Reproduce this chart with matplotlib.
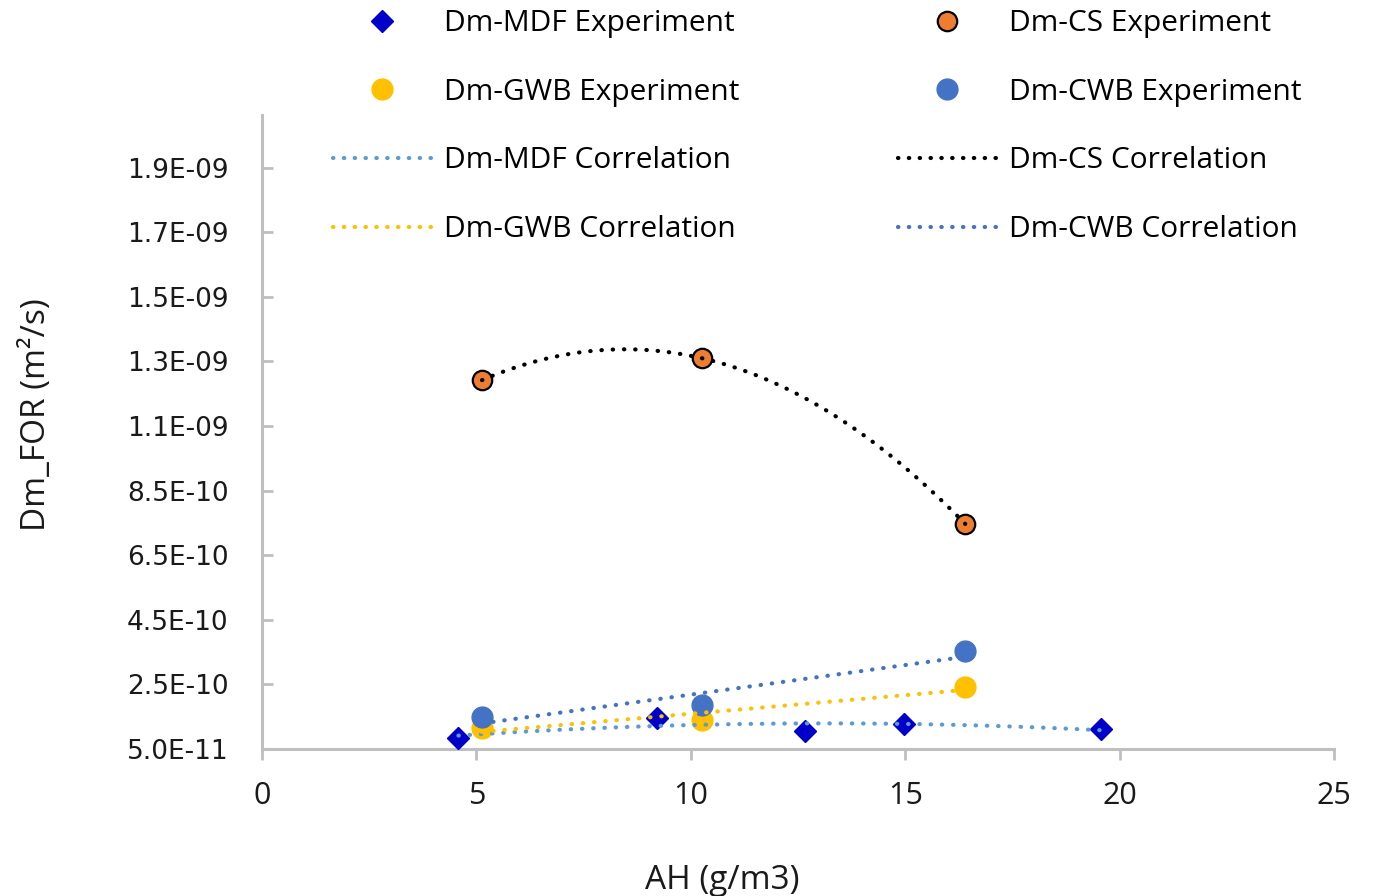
import numpy as np
import matplotlib
matplotlib.use("Agg")
import matplotlib.pyplot as plt
from matplotlib.ticker import FixedLocator, FixedFormatter
from matplotlib.lines import Line2D

# data
mdf_x = [4.58, 9.22, 12.66, 14.98, 19.57]
mdf_y = [8.4e-11, 1.47e-10, 1.07e-10, 1.28e-10, 1.12e-10]
cs_x = [5.13, 10.26, 16.4]
cs_y = [1.192e-9, 1.26e-9, 7.47e-10]
gwb_x = [5.13, 10.26, 16.4]
gwb_y = [1.15e-10, 1.40e-10, 2.43e-10]
cwb_x = [5.13, 10.26, 16.4]
cwb_y = [1.50e-10, 1.85e-10, 3.53e-10]

ytick_vals = [5e-11 + k * 2e-10 for k in range(10)]
ytick_text = ["5.0E-11", "2.5E-10", "4.5E-10", "6.5E-10", "8.5E-10",
              "1.1E-09", "1.3E-09", "1.5E-09", "1.7E-09", "1.9E-09"]

c_mdf = "#0000C8"
c_mdf_fit = "#5B9BD5"
c_cs = "#ED7D31"
c_gwb = "#FFC000"
c_cwb = "#4472C4"
grey = "#BFBFBF"
lab_font = "Open Sans"

fig = plt.figure(figsize=(13.76, 8.96), dpi=100)
ax = fig.add_axes([262/1376, 1-749/896, (1334-262)/1376, (749-115)/896])

dot = dict(lw=3.0, linestyle=(0, (0.1, 2.6)), dash_capstyle="round", zorder=4)

def trend(x, y, deg):
    p = np.polyfit(x, y, deg)
    xs = np.linspace(min(x), max(x), 200)
    return xs, np.polyval(p, xs)

ax.plot(mdf_x, mdf_y, "D", color=c_mdf, ms=11.5, ls="none", zorder=3)
ax.plot(cs_x, cs_y, "o", color=c_cs, mec="black", mew=1.6, ms=14, ls="none", zorder=3)
ax.plot(gwb_x, gwb_y, "o", color=c_gwb, ms=15, ls="none", zorder=3)
ax.plot(cwb_x, cwb_y, "o", color=c_cwb, ms=15, ls="none", zorder=3)

xs, ys = trend(mdf_x, mdf_y, 2)
ax.plot(xs, ys, color=c_mdf_fit, **dot)
xs, ys = trend(cs_x, cs_y, 2)
ax.plot(xs, ys, color="black", **dot)
xs, ys = trend(gwb_x, gwb_y, 1)
ax.plot(xs, ys, color=c_gwb, **dot)
xs, ys = trend(cwb_x, cwb_y, 1)
ax.plot(xs, ys, color=c_cwb, **dot)

ax.set_xlim(0, 25)
ax.set_ylim(5e-11, 2.013e-9)
ax.set_xticks(range(0, 26, 5))
ax.yaxis.set_major_locator(FixedLocator(ytick_vals))
ax.yaxis.set_major_formatter(FixedFormatter(ytick_text))

for s in ["top", "right"]:
    ax.spines[s].set_visible(False)
for s in ["left", "bottom"]:
    ax.spines[s].set_color(grey)
    ax.spines[s].set_linewidth(2.2)

ax.tick_params(axis="y", direction="in", length=8, width=2, color=grey,
               pad=24, labelsize=19, labelcolor="#1a1a1a")
ax.tick_params(axis="x", direction="out", length=8, width=2, color=grey,
               pad=15, labelsize=22, labelcolor="#1a1a1a")
for t in ax.get_xticklabels():
    t.set_fontfamily(lab_font)

ax.set_xlabel("AH (g/m3)", fontsize=24, family=lab_font, color="#1a1a1a")
ax.xaxis.set_label_coords(0.429, -0.182)
ax.set_ylabel("Dm_FOR (m²/s)", fontsize=24, family=lab_font, color="#1a1a1a")
ax.yaxis.set_label_coords(-0.195, 0.5276)

def mk(marker, color, ms, **kw):
    return Line2D([], [], marker=marker, color=color, ms=ms, ls="none", **kw)

def ln(color):
    return Line2D([], [], color=color, lw=3.0, linestyle=(0, (0.1, 2.5)),
                  dash_capstyle="round")

leg_kw = dict(frameon=False, prop={"family": lab_font, "size": 21.5},
              handlelength=3.3, handletextpad=0.42, labelspacing=1.33,
              borderpad=0, borderaxespad=0, loc="upper left")

col1 = [mk("D", c_mdf, 11.5), mk("o", c_gwb, 15), ln(c_mdf_fit), ln(c_gwb)]
lab1 = ["Dm-MDF Experiment", "Dm-GWB Experiment", "Dm-MDF Correlation", "Dm-GWB Correlation"]
col2 = [mk("o", c_cs, 14, mec="black", mew=1.6), mk("o", c_cwb, 15), ln("black"), ln(c_cwb)]
lab2 = ["Dm-CS Experiment", "Dm-CWB Experiment", "Dm-CS Correlation", "Dm-CWB Correlation"]

leg1 = ax.legend(col1, lab1, bbox_to_anchor=(333/1376, 1-9/896),
                 bbox_transform=fig.transFigure, **leg_kw)
ax.add_artist(leg1)
ax.legend(col2, lab2, bbox_to_anchor=(898/1376, 1-9/896),
          bbox_transform=fig.transFigure, **leg_kw)

fig.savefig("out.png", dpi=100)
